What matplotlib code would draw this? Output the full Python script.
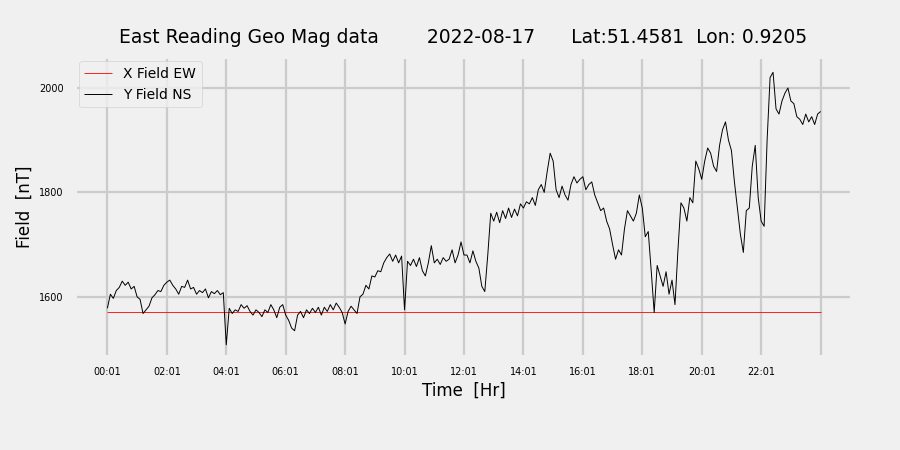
import numpy as np
from matplotlib import pyplot as plt

# readings every 6 minutes from 00:01, one row per 2 hours
minutes = np.arange(0, 1441, 6)

y_ns = [
    1578, 1605, 1597, 1612, 1618, 1630, 1622, 1628, 1615, 1620, 1600, 1595, 1568, 1575, 1582, 1598, 1604, 1612, 1610, 1622,
    1628, 1632, 1622, 1615, 1605, 1620, 1618, 1632, 1615, 1618, 1605, 1612, 1608, 1615, 1598, 1610, 1606, 1612, 1604, 1608,
    1508, 1578, 1568, 1575, 1572, 1585, 1578, 1583, 1572, 1565, 1575, 1570, 1562, 1575, 1570, 1585, 1575, 1560, 1580, 1585,
    1565, 1555, 1540, 1535, 1565, 1572, 1560, 1575, 1568, 1578, 1570, 1580, 1565, 1580, 1572, 1585, 1575, 1588, 1580, 1570,
    1548, 1572, 1582, 1575, 1568, 1600, 1605, 1622, 1615, 1640, 1638, 1650, 1648, 1665, 1675, 1682, 1668, 1680, 1665, 1678,
    1575, 1668, 1660, 1672, 1658, 1675, 1650, 1640, 1665, 1698, 1665, 1672, 1662, 1675, 1668, 1672, 1690, 1665, 1680, 1705,
    1680, 1680, 1665, 1688, 1668, 1655, 1620, 1610, 1680, 1760, 1745, 1762, 1742, 1765, 1750, 1770, 1752, 1768, 1755, 1778,
    1770, 1782, 1778, 1790, 1775, 1805, 1815, 1800, 1840, 1875, 1860, 1805, 1790, 1812, 1795, 1785, 1815, 1830, 1818, 1825,
    1830, 1805, 1815, 1820, 1795, 1780, 1765, 1770, 1745, 1730, 1700, 1672, 1690, 1680, 1730, 1765, 1755, 1745, 1760, 1795,
    1770, 1715, 1725, 1650, 1570, 1660, 1640, 1620, 1648, 1605, 1632, 1585, 1690, 1780, 1770, 1745, 1790, 1780, 1860, 1845,
    1825, 1860, 1885, 1875, 1850, 1840, 1890, 1920, 1935, 1900, 1880, 1820, 1770, 1720, 1685, 1765, 1770, 1850, 1890, 1790,
    1745, 1735, 1900, 2020, 2030, 1960, 1950, 1975, 1990, 2000, 1975, 1970, 1945, 1940, 1930, 1950, 1935, 1945, 1930, 1950,
    1955,
]
x_ew_level = 1570
x_ew = np.full(len(minutes), x_ew_level)

tick_pos = np.arange(0, 1441, 120)
tick_labels = ["00:01", "02:01", "04:01", "06:01", "08:01", "10:01",
               "12:01", "14:01", "16:01", "18:01", "20:01", "22:01", ""]

plt.style.use("fivethirtyeight")
plt.rcParams["grid.linewidth"] = 1.6
fig = plt.figure(figsize=(9, 4.5), dpi=100)
ax = fig.add_axes([0.083, 0.207, 0.864, 0.666])

ax.plot(minutes, x_ew, color="red", linewidth=0.6, label="X Field EW")
ax.plot(minutes, y_ns, color="black", linewidth=0.7, label="Y Field NS")

ax.set_xlim(-66, 1504)
ax.set_ylim(1485, 2059)
ax.set_yticks([1600, 1800, 2000])
ax.set_xticks(tick_pos)
ax.set_xticklabels(tick_labels)
ax.tick_params(axis="x", labelsize=7, pad=7)
ax.tick_params(axis="y", labelsize=7, pad=8)

ax.set_title("East Reading Geo Mag data        2022-08-17      Lat:51.4581  Lon: 0.9205",
             fontsize=13.5, pad=10)
ax.set_xlabel("Time  [Hr]", fontsize=12)
ax.set_ylabel("Field  [nT]", fontsize=12)
ax.legend(loc="upper left", fontsize=10, borderaxespad=0.3)

fig.savefig("out.png", dpi=100)
